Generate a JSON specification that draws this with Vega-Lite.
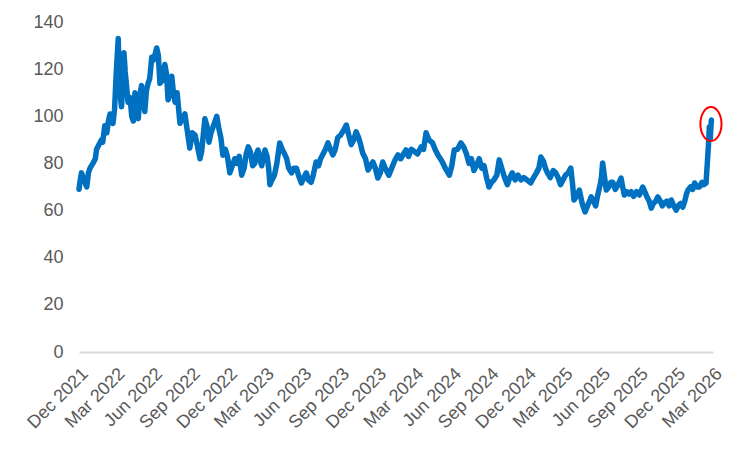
{
  "$schema": "https://vega.github.io/schema/vega-lite/v6.json",
  "width": 634,
  "height": 330,
  "autosize": "none",
  "padding": {"left": 79, "top": 22, "right": 37, "bottom": 98},
  "config": {
    "view": {"stroke": null},
    "font": "Liberation Sans",
    "axis": {"labelColor": "#595959", "labelFontSize": 18, "labelFont": "Liberation Sans"}
  },
  "datasets": {
    "price": [
      {"date": "2021-12-01", "value": 69}, {"date": "2021-12-04", "value": 73}, {"date": "2021-12-07", "value": 76},
      {"date": "2021-12-13", "value": 73}, {"date": "2021-12-20", "value": 70}, {"date": "2021-12-24", "value": 76},
      {"date": "2021-12-28", "value": 78}, {"date": "2022-01-04", "value": 80}, {"date": "2022-01-10", "value": 82},
      {"date": "2022-01-13", "value": 86}, {"date": "2022-01-19", "value": 88}, {"date": "2022-01-25", "value": 90},
      {"date": "2022-01-28", "value": 89}, {"date": "2022-02-02", "value": 96}, {"date": "2022-02-07", "value": 93},
      {"date": "2022-02-11", "value": 98}, {"date": "2022-02-15", "value": 101}, {"date": "2022-02-22", "value": 97},
      {"date": "2022-02-26", "value": 103}, {"date": "2022-03-02", "value": 118}, {"date": "2022-03-07", "value": 133},
      {"date": "2022-03-10", "value": 112}, {"date": "2022-03-15", "value": 104}, {"date": "2022-03-18", "value": 113},
      {"date": "2022-03-21", "value": 127}, {"date": "2022-03-24", "value": 119}, {"date": "2022-03-31", "value": 106},
      {"date": "2022-04-05", "value": 108}, {"date": "2022-04-09", "value": 100}, {"date": "2022-04-13", "value": 98},
      {"date": "2022-04-17", "value": 110}, {"date": "2022-04-21", "value": 105}, {"date": "2022-04-25", "value": 99},
      {"date": "2022-04-29", "value": 109}, {"date": "2022-05-03", "value": 113}, {"date": "2022-05-07", "value": 106},
      {"date": "2022-05-11", "value": 102}, {"date": "2022-05-15", "value": 111}, {"date": "2022-05-19", "value": 114},
      {"date": "2022-05-23", "value": 116}, {"date": "2022-05-28", "value": 125}, {"date": "2022-06-02", "value": 124},
      {"date": "2022-06-09", "value": 129}, {"date": "2022-06-13", "value": 126}, {"date": "2022-06-17", "value": 114},
      {"date": "2022-06-22", "value": 115}, {"date": "2022-06-29", "value": 122}, {"date": "2022-07-03", "value": 118},
      {"date": "2022-07-07", "value": 107}, {"date": "2022-07-11", "value": 110}, {"date": "2022-07-16", "value": 117},
      {"date": "2022-07-20", "value": 110}, {"date": "2022-07-24", "value": 106}, {"date": "2022-07-29", "value": 110},
      {"date": "2022-08-05", "value": 97}, {"date": "2022-08-10", "value": 99}, {"date": "2022-08-17", "value": 101},
      {"date": "2022-08-22", "value": 95}, {"date": "2022-08-29", "value": 86.5}, {"date": "2022-09-04", "value": 93},
      {"date": "2022-09-11", "value": 92}, {"date": "2022-09-16", "value": 88}, {"date": "2022-09-23", "value": 82},
      {"date": "2022-09-27", "value": 85}, {"date": "2022-10-01", "value": 92}, {"date": "2022-10-05", "value": 99},
      {"date": "2022-10-10", "value": 96}, {"date": "2022-10-15", "value": 89}, {"date": "2022-10-20", "value": 93},
      {"date": "2022-10-26", "value": 96}, {"date": "2022-11-03", "value": 100}, {"date": "2022-11-08", "value": 95},
      {"date": "2022-11-13", "value": 91}, {"date": "2022-11-18", "value": 83.5}, {"date": "2022-11-24", "value": 86},
      {"date": "2022-11-29", "value": 83}, {"date": "2022-12-05", "value": 76}, {"date": "2022-12-09", "value": 78},
      {"date": "2022-12-13", "value": 80}, {"date": "2022-12-17", "value": 82}, {"date": "2022-12-22", "value": 80},
      {"date": "2022-12-28", "value": 83}, {"date": "2023-01-03", "value": 75}, {"date": "2023-01-09", "value": 78},
      {"date": "2023-01-14", "value": 84}, {"date": "2023-01-19", "value": 87}, {"date": "2023-01-24", "value": 85},
      {"date": "2023-01-30", "value": 79}, {"date": "2023-02-04", "value": 80}, {"date": "2023-02-08", "value": 84},
      {"date": "2023-02-12", "value": 85.7}, {"date": "2023-02-16", "value": 82}, {"date": "2023-02-21", "value": 79},
      {"date": "2023-02-25", "value": 83}, {"date": "2023-03-01", "value": 85.7}, {"date": "2023-03-06", "value": 83},
      {"date": "2023-03-10", "value": 78}, {"date": "2023-03-13", "value": 71}, {"date": "2023-03-18", "value": 73},
      {"date": "2023-03-24", "value": 75}, {"date": "2023-03-30", "value": 80}, {"date": "2023-04-06", "value": 88.7},
      {"date": "2023-04-12", "value": 86}, {"date": "2023-04-18", "value": 84}, {"date": "2023-04-23", "value": 82},
      {"date": "2023-04-28", "value": 78}, {"date": "2023-05-05", "value": 76}, {"date": "2023-05-10", "value": 78},
      {"date": "2023-05-17", "value": 78}, {"date": "2023-05-22", "value": 75}, {"date": "2023-05-29", "value": 71.7},
      {"date": "2023-06-04", "value": 74}, {"date": "2023-06-10", "value": 76}, {"date": "2023-06-15", "value": 73},
      {"date": "2023-06-22", "value": 72}, {"date": "2023-06-27", "value": 75}, {"date": "2023-07-04", "value": 80.6},
      {"date": "2023-07-10", "value": 79}, {"date": "2023-07-15", "value": 82}, {"date": "2023-07-21", "value": 84},
      {"date": "2023-07-27", "value": 86}, {"date": "2023-08-02", "value": 88.7}, {"date": "2023-08-08", "value": 86},
      {"date": "2023-08-14", "value": 83.6}, {"date": "2023-08-20", "value": 86}, {"date": "2023-08-26", "value": 91},
      {"date": "2023-09-02", "value": 92}, {"date": "2023-09-09", "value": 94}, {"date": "2023-09-16", "value": 96.3},
      {"date": "2023-09-22", "value": 92}, {"date": "2023-09-28", "value": 88}, {"date": "2023-10-04", "value": 90},
      {"date": "2023-10-10", "value": 93.4}, {"date": "2023-10-16", "value": 91}, {"date": "2023-10-21", "value": 88},
      {"date": "2023-10-26", "value": 84.4}, {"date": "2023-11-02", "value": 82}, {"date": "2023-11-08", "value": 77.2},
      {"date": "2023-11-14", "value": 79}, {"date": "2023-11-20", "value": 80.6}, {"date": "2023-11-26", "value": 78},
      {"date": "2023-12-02", "value": 73.8}, {"date": "2023-12-08", "value": 76}, {"date": "2023-12-14", "value": 80.6},
      {"date": "2023-12-20", "value": 78}, {"date": "2023-12-29", "value": 75}, {"date": "2024-01-05", "value": 78},
      {"date": "2024-01-12", "value": 81}, {"date": "2024-01-20", "value": 83.6}, {"date": "2024-01-27", "value": 82},
      {"date": "2024-02-03", "value": 84}, {"date": "2024-02-09", "value": 85.7}, {"date": "2024-02-15", "value": 83},
      {"date": "2024-02-22", "value": 86}, {"date": "2024-03-01", "value": 85}, {"date": "2024-03-08", "value": 84},
      {"date": "2024-03-17", "value": 87}, {"date": "2024-03-23", "value": 86}, {"date": "2024-03-29", "value": 93},
      {"date": "2024-04-05", "value": 90}, {"date": "2024-04-14", "value": 88.7}, {"date": "2024-04-20", "value": 86},
      {"date": "2024-04-27", "value": 83.6}, {"date": "2024-05-03", "value": 82}, {"date": "2024-05-09", "value": 80.2},
      {"date": "2024-05-15", "value": 78}, {"date": "2024-05-25", "value": 75}, {"date": "2024-05-31", "value": 79},
      {"date": "2024-06-06", "value": 85.7}, {"date": "2024-06-14", "value": 86}, {"date": "2024-06-22", "value": 88.7},
      {"date": "2024-06-29", "value": 87}, {"date": "2024-07-06", "value": 84}, {"date": "2024-07-12", "value": 80},
      {"date": "2024-07-18", "value": 82}, {"date": "2024-07-24", "value": 77}, {"date": "2024-07-30", "value": 79},
      {"date": "2024-08-06", "value": 82}, {"date": "2024-08-12", "value": 78}, {"date": "2024-08-18", "value": 79},
      {"date": "2024-08-24", "value": 74}, {"date": "2024-08-30", "value": 70}, {"date": "2024-09-05", "value": 72},
      {"date": "2024-09-11", "value": 73}, {"date": "2024-09-18", "value": 75}, {"date": "2024-09-24", "value": 81.5},
      {"date": "2024-09-30", "value": 78}, {"date": "2024-10-07", "value": 74}, {"date": "2024-10-14", "value": 71},
      {"date": "2024-10-20", "value": 74}, {"date": "2024-10-26", "value": 76}, {"date": "2024-11-02", "value": 73},
      {"date": "2024-11-09", "value": 75}, {"date": "2024-11-16", "value": 73}, {"date": "2024-11-23", "value": 74},
      {"date": "2024-12-01", "value": 73}, {"date": "2024-12-10", "value": 71.7}, {"date": "2024-12-17", "value": 74},
      {"date": "2024-12-24", "value": 76}, {"date": "2024-12-30", "value": 78}, {"date": "2025-01-04", "value": 82.7},
      {"date": "2025-01-10", "value": 81}, {"date": "2025-01-15", "value": 78}, {"date": "2025-01-20", "value": 76},
      {"date": "2025-01-27", "value": 74}, {"date": "2025-02-03", "value": 77}, {"date": "2025-02-09", "value": 76},
      {"date": "2025-02-15", "value": 74}, {"date": "2025-02-21", "value": 71}, {"date": "2025-02-27", "value": 73},
      {"date": "2025-03-05", "value": 75}, {"date": "2025-03-12", "value": 76}, {"date": "2025-03-18", "value": 78},
      {"date": "2025-03-22", "value": 72}, {"date": "2025-03-26", "value": 64.5}, {"date": "2025-04-01", "value": 66},
      {"date": "2025-04-08", "value": 68.7}, {"date": "2025-04-15", "value": 63}, {"date": "2025-04-22", "value": 59.4},
      {"date": "2025-04-28", "value": 62}, {"date": "2025-05-03", "value": 64}, {"date": "2025-05-07", "value": 65.8},
      {"date": "2025-05-13", "value": 64}, {"date": "2025-05-18", "value": 62}, {"date": "2025-05-23", "value": 66.6},
      {"date": "2025-05-29", "value": 71}, {"date": "2025-06-01", "value": 74}, {"date": "2025-06-04", "value": 80.2},
      {"date": "2025-06-08", "value": 75}, {"date": "2025-06-13", "value": 68.7}, {"date": "2025-06-19", "value": 70},
      {"date": "2025-06-24", "value": 72}, {"date": "2025-06-29", "value": 72}, {"date": "2025-07-05", "value": 69},
      {"date": "2025-07-12", "value": 71}, {"date": "2025-07-19", "value": 73.8}, {"date": "2025-07-23", "value": 70},
      {"date": "2025-07-27", "value": 66.6}, {"date": "2025-08-02", "value": 68}, {"date": "2025-08-08", "value": 67},
      {"date": "2025-08-13", "value": 68}, {"date": "2025-08-19", "value": 66}, {"date": "2025-08-26", "value": 68},
      {"date": "2025-09-02", "value": 66.6}, {"date": "2025-09-10", "value": 70}, {"date": "2025-09-15", "value": 68},
      {"date": "2025-09-20", "value": 66}, {"date": "2025-09-26", "value": 64}, {"date": "2025-10-01", "value": 61},
      {"date": "2025-10-06", "value": 63}, {"date": "2025-10-12", "value": 64}, {"date": "2025-10-17", "value": 65.8},
      {"date": "2025-10-23", "value": 64}, {"date": "2025-10-28", "value": 62}, {"date": "2025-11-02", "value": 63.2},
      {"date": "2025-11-08", "value": 64}, {"date": "2025-11-14", "value": 62}, {"date": "2025-11-19", "value": 64.5},
      {"date": "2025-11-25", "value": 62}, {"date": "2025-12-01", "value": 60.2}, {"date": "2025-12-06", "value": 62},
      {"date": "2025-12-12", "value": 63}, {"date": "2025-12-17", "value": 61.5}, {"date": "2025-12-22", "value": 64},
      {"date": "2025-12-26", "value": 67}, {"date": "2025-12-30", "value": 68.7}, {"date": "2026-01-05", "value": 70},
      {"date": "2026-01-10", "value": 69}, {"date": "2026-01-15", "value": 71.7}, {"date": "2026-01-21", "value": 70},
      {"date": "2026-01-27", "value": 70}, {"date": "2026-02-02", "value": 72}, {"date": "2026-02-07", "value": 71},
      {"date": "2026-02-12", "value": 71.7}, {"date": "2026-02-16", "value": 82.7}, {"date": "2026-02-18", "value": 88},
      {"date": "2026-02-20", "value": 95.5}, {"date": "2026-02-22", "value": 90}, {"date": "2026-02-25", "value": 98.4}
    ],
    "highlight": [
      {"date": "2026-02-24", "value": 96.7}
    ]
  },
  "encoding": {
    "x": {
      "field": "date",
      "type": "temporal",
      "scale": {
        "type": "utc",
        "domain": [
          {"year": 2021, "month": 12, "date": 1, "utc": true},
          {"year": 2026, "month": 3, "date": 1, "utc": true}
        ]
      },
      "axis": {
        "title": null,
        "grid": false,
        "ticks": false,
        "domainColor": "#d9d9d9",
        "domainWidth": 2,
        "labelExpr": "utcFormat(datum.value, '%b %Y')",
        "values": [
          {"year": 2021, "month": 12, "date": 1, "utc": true},
          {"year": 2022, "month": 3, "date": 1, "utc": true},
          {"year": 2022, "month": 6, "date": 1, "utc": true},
          {"year": 2022, "month": 9, "date": 1, "utc": true},
          {"year": 2022, "month": 12, "date": 1, "utc": true},
          {"year": 2023, "month": 3, "date": 1, "utc": true},
          {"year": 2023, "month": 6, "date": 1, "utc": true},
          {"year": 2023, "month": 9, "date": 1, "utc": true},
          {"year": 2023, "month": 12, "date": 1, "utc": true},
          {"year": 2024, "month": 3, "date": 1, "utc": true},
          {"year": 2024, "month": 6, "date": 1, "utc": true},
          {"year": 2024, "month": 9, "date": 1, "utc": true},
          {"year": 2024, "month": 12, "date": 1, "utc": true},
          {"year": 2025, "month": 3, "date": 1, "utc": true},
          {"year": 2025, "month": 6, "date": 1, "utc": true},
          {"year": 2025, "month": 9, "date": 1, "utc": true},
          {"year": 2025, "month": 12, "date": 1, "utc": true},
          {"year": 2026, "month": 3, "date": 1, "utc": true}
        ],
        "labelAngle": -45,
        "labelAlign": "right",
        "labelBaseline": "middle",
        "labelPadding": 19,
        "labelOffset": 6,
        "labelOverlap": false,
        "labelFlush": false,
        "labelBound": false
      }
    },
    "y": {
      "field": "value",
      "type": "quantitative",
      "scale": {"domain": [0, 140], "nice": false},
      "axis": {
        "title": null,
        "grid": false,
        "domain": false,
        "ticks": false,
        "labelPadding": 16,
        "values": [0, 20, 40, 60, 80, 100, 120, 140]
      }
    }
  },
  "layer": [
    {
      "data": {"name": "price"},
      "mark": {"type": "line", "color": "#0070c0", "strokeWidth": 5.5, "strokeJoin": "round", "strokeCap": "round"}
    },
    {
      "data": {"name": "highlight"},
      "mark": {
        "type": "point",
        "shape": "M0,-1A0.62,1,0,1,1,0,1A0.62,1,0,1,1,0,-1Z",
        "size": 1156,
        "filled": false,
        "stroke": "#ff0000",
        "strokeWidth": 2,
        "opacity": 1
      }
    }
  ]
}
